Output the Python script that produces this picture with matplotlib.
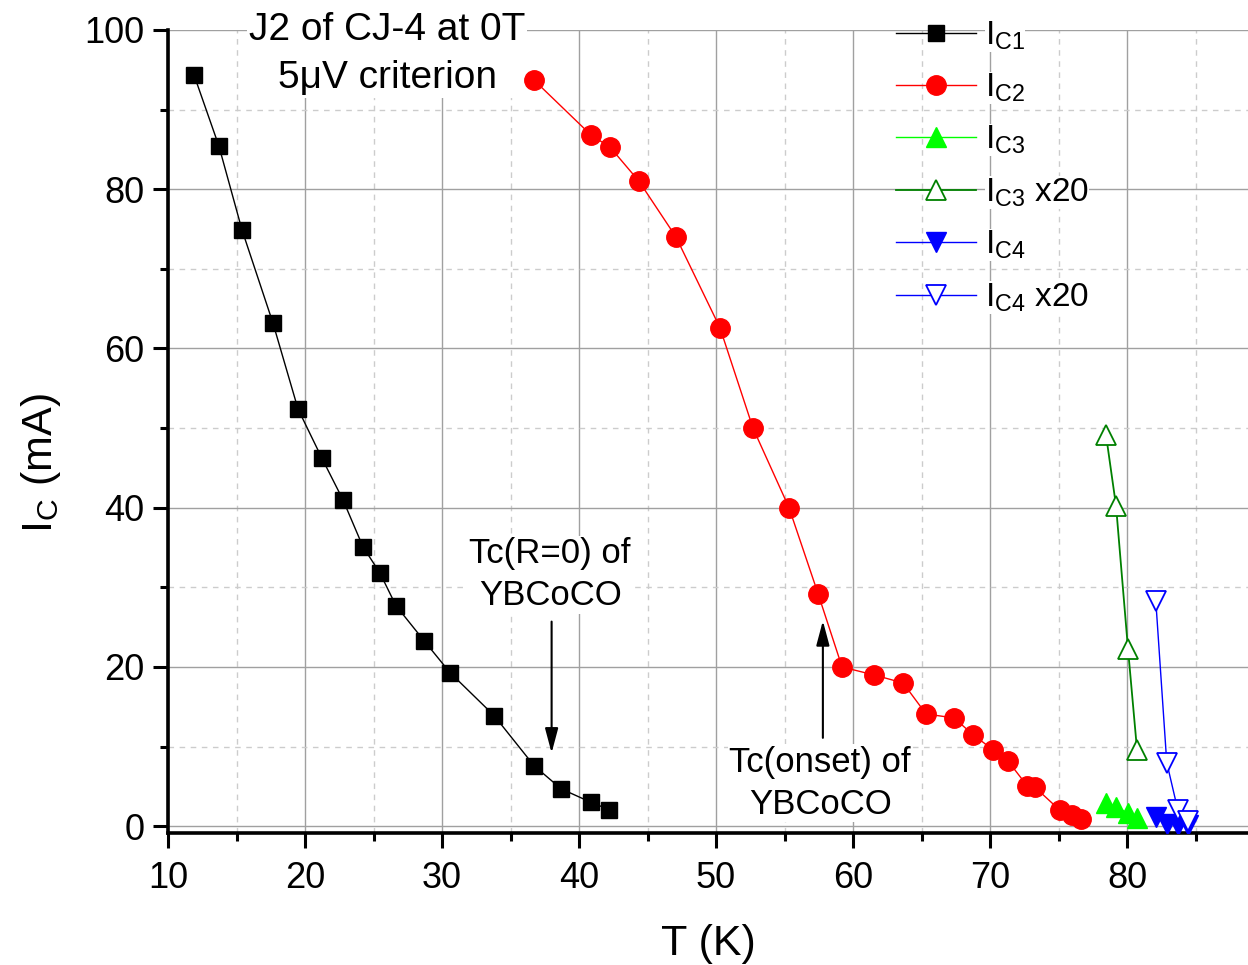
import matplotlib
matplotlib.use("Agg")
import matplotlib.pyplot as plt
from matplotlib.ticker import MultipleLocator

plt.rcParams['font.family'] = ['Liberation Sans', 'DejaVu Sans']
plt.rcParams['mathtext.fontset'] = 'custom'
plt.rcParams['mathtext.rm'] = 'Liberation Sans'
plt.rcParams['mathtext.it'] = 'Liberation Sans'

# ---- data ----
T1 = [11.9, 13.72, 15.4, 17.66, 19.49, 21.24, 22.77, 24.23, 25.47, 26.64,
      28.69, 30.58, 33.8, 36.72, 38.69, 40.88, 42.19]
I1 = [94.35, 85.4, 74.9, 63.2, 52.4, 46.2, 41.0, 35.1, 31.8, 27.7,
      23.3, 19.3, 13.9, 7.6, 4.7, 3.0, 2.1]

T2 = [36.72, 40.88, 42.26, 44.38, 47.08, 50.29, 52.7, 55.33, 57.45, 59.2,
      61.53, 63.65, 65.33, 67.37, 68.76, 70.22, 71.31, 72.7, 73.28, 75.1,
      75.99, 76.64]
I2 = [93.7, 86.8, 85.3, 81.0, 74.0, 62.6, 50.0, 40.0, 29.2, 20.0,
      19.0, 18.0, 14.1, 13.6, 11.5, 9.6, 8.2, 5.1, 4.9, 2.0,
      1.4, 0.9]

T3 = [78.47, 79.2, 80.07, 80.73]
I3 = [2.9, 2.45, 1.65, 1.0]
I3x20 = [49.1, 40.2, 22.3, 9.6]

T4 = [82.1, 82.9, 83.7, 84.45]
I4 = [1.1, 0.3, 0.2, 0.2]
I4x20 = [28.3, 8.0, 2.1, 0.7]

labels = [r'$\mathregular{I_{C1}}$', r'$\mathregular{I_{C2}}$', r'$\mathregular{I_{C3}}$',
          r'$\mathregular{I_{C3}}$ x20', r'$\mathregular{I_{C4}}$', r'$\mathregular{I_{C4}}$ x20']

fig = plt.figure(figsize=(12.48, 9.65), dpi=100)
ax = fig.add_axes([168/1248, 1-833/965, 1-168/1248, (833-30)/965])

ax.plot(T1, I1, '-', color='black', lw=1.0, marker='s', ms=12, mfc='black', mec='black', label=labels[0], zorder=3)
ax.plot(T2, I2, '-', color='red', lw=1.0, marker='o', ms=14, mfc='red', mec='red', label=labels[1], zorder=3)
ax.plot(T3, I3, '-', color='#00ff00', lw=1.0, marker='^', ms=15, mfc='#00ff00', mec='#00ff00', label=labels[2], zorder=3)
ax.plot(T3, I3x20, '-', color='#008000', lw=1.3, marker='^', ms=15, mfc='white', mec='#008000', mew=1.3, label=labels[3], zorder=3)
ax.plot(T4, I4, '-', color='#0000ff', lw=1.0, marker='v', ms=15, mfc='#0000ff', mec='#0000ff', label=labels[4], zorder=3)
ax.plot(T4, I4x20, '-', color='#0000ff', lw=1.0, marker='v', ms=15, mfc='white', mec='#0000ff', mew=1.3, label=labels[5], zorder=3)

ax.set_xlim(10, 88.83)
ax.set_ylim(-0.85, 100)

ax.xaxis.set_major_locator(MultipleLocator(10))
ax.xaxis.set_minor_locator(MultipleLocator(5))
ax.yaxis.set_major_locator(MultipleLocator(20))
ax.yaxis.set_minor_locator(MultipleLocator(10))

ax.grid(which='major', color='#a0a0a0', lw=1.0, ls='-', zorder=0)
ax.grid(which='minor', color='#cccccc', lw=1.0, ls=(0, (4, 4)), zorder=0)
ax.set_axisbelow(True)

for s in ['top', 'right']:
    ax.spines[s].set_visible(False)
for s in ['left', 'bottom']:
    ax.spines[s].set_linewidth(2.6)

ax.tick_params(which='major', direction='out', length=11, width=2.2, labelsize=26)
ax.tick_params(axis='x', which='major', pad=9)
ax.tick_params(axis='y', which='major', pad=6)
ax.tick_params(which='minor', direction='out', length=6, width=2.2)

ax.set_xlabel('T (K)', fontsize=31, labelpad=20)
ax.set_ylabel(r'$\mathregular{I_C}$ (mA)', fontsize=31)
ax.yaxis.set_label_coords(-0.097, 0.46)

wb = dict(facecolor='white', edgecolor='none', pad=1)
ax.text(26.0, 97.0, 'J2 of CJ-4 at 0T\n5\u03bcV criterion', fontsize=28, ha='center', va='center',
        linespacing=1.45, bbox=wb, zorder=2.5)
ax.text(37.9, 31.6, 'Tc(R=0) of\nYBCoCO', fontsize=25, ha='center', va='center',
        linespacing=1.35, bbox=wb, zorder=2.5)
ax.text(57.6, 5.4, 'Tc(onset) of\nYBCoCO', fontsize=25, ha='center', va='center',
        linespacing=1.35, bbox=wb, zorder=2.5)

ap = dict(arrowstyle='-|>,head_length=0.75,head_width=0.2', color='black', lw=1.5,
          mutation_scale=20, shrinkA=0, shrinkB=0)
ax.annotate('', xy=(38.0, 9.2), xytext=(38.0, 25.7), arrowprops=ap, zorder=5)
ax.annotate('', xy=(57.8, 25.8), xytext=(57.8, 11.1), arrowprops=ap, zorder=5)

leg = ax.legend(loc='upper left', bbox_to_anchor=(0.662, 1.03), frameon=False, fontsize=24,
                handlelength=2.4, handletextpad=0.25, labelspacing=0.6, borderaxespad=0)
for t in leg.get_texts():
    t.set_bbox(dict(facecolor='white', edgecolor='none', pad=0))

fig.savefig('out.png', dpi=100)
